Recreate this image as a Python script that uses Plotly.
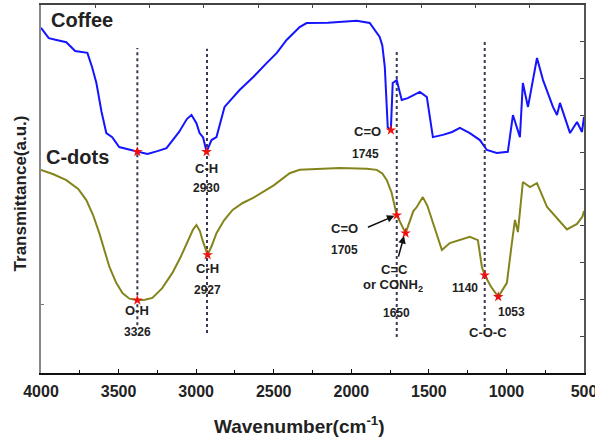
import plotly.graph_objects as go

# Coffee spectrum (wavenumber cm^-1, transmittance a.u.)
coffee_wn = [4000, 3950, 3900, 3837, 3780, 3733, 3701, 3670, 3643, 3610, 3579, 3541, 3496, 3440,
             3379, 3314, 3250, 3191, 3110, 3060, 3030, 2998, 2978, 2955,
             2933, 2901, 2869, 2817, 2720, 2630, 2546, 2480, 2417, 2333, 2288, 2150, 1965, 1881, 1817,
             1800, 1784, 1765, 1745, 1733, 1707, 1675, 1636, 1558, 1513, 1474, 1410, 1350, 1300,
             1236, 1171, 1126, 1062, 991, 958, 913, 894, 861, 803, 764, 700, 674, 655, 590, 545,
             513, 500]
coffee_t = [9.38, 9.10, 9.05, 8.99, 8.75, 8.72, 8.70, 8.30, 7.88, 7.10, 6.52, 6.41, 6.14, 6.08,
            6.01, 5.95, 6.03, 6.11, 6.55, 6.90, 7.01, 6.79, 6.52, 6.40,
            6.01, 6.33, 6.41, 7.23, 7.69, 8.05, 8.42, 8.70, 9.05, 9.40, 9.51, 9.52, 9.57, 9.51, 9.13,
            8.90, 8.32, 6.68, 6.60, 7.88, 7.96, 7.42, 7.47, 7.64, 7.50, 6.41, 6.47, 6.55, 6.66,
            6.52, 6.33, 6.06, 5.98, 6.01, 7.01, 6.41, 7.88, 7.23, 8.56, 7.96, 7.23, 7.01, 7.34, 6.52,
            6.82, 6.55, 6.96]

# C-dots spectrum
cdots_wn = [4000, 3920, 3837, 3760, 3708, 3665, 3624, 3590, 3559, 3515, 3475, 3430, 3379, 3330,
            3282, 3220, 3153, 3100, 3062, 3020, 2998, 2975, 2959, 2926, 2900, 2869, 2820,
            2765, 2700, 2636, 2500, 2397, 2333, 2200, 2075, 1900, 1836, 1800, 1771, 1740, 1707,
            1650, 1623, 1600, 1578, 1539, 1510, 1474, 1416, 1365, 1300, 1236, 1184, 1158, 1140,
            1100, 1053, 997, 965, 945, 926, 913, 894, 848, 803, 738, 674, 610, 545, 510, 500]
cdots_t = [5.52, 5.40, 5.24, 5.00, 4.70, 4.30, 3.80, 3.35, 2.88, 2.45, 2.17, 2.02, 1.98, 1.99,
           2.04, 2.30, 2.72, 3.15, 3.53, 3.90, 4.02, 3.85, 3.61, 3.21, 3.45, 3.80, 4.15,
           4.43, 4.62, 4.75, 5.10, 5.43, 5.52, 5.55, 5.57, 5.55, 5.52, 5.42, 5.24, 4.90, 4.29,
           3.80, 4.16, 4.40, 4.51, 4.78, 4.55, 4.08, 3.34, 3.53, 3.62, 3.70, 3.61, 2.88, 2.66,
           2.35, 2.07, 2.45, 3.53, 4.16, 3.83, 4.43, 5.19, 5.05, 5.16, 4.51, 4.20, 3.90, 4.05,
           4.25, 4.40]

# Marked peaks
coffee_peak_wn = [3379, 2933, 1745]
coffee_peak_t = [6.01, 6.01, 6.60]
cdots_peak_wn = [3379, 2926, 1707, 1650, 1140, 1053]
cdots_peak_t = [1.98, 3.21, 4.29, 3.80, 2.66, 2.07]

# Guide lines (wavenumber, top, bottom)
guide_wn = [3379, 2930, 1707, 1140]
guide_top = [8.83, 8.81, 8.72, 9.00]
guide_bot = [1.30, 1.09, 0.98, 1.25]

# Labels: (text, wavenumber, y, size)
labels = [
    ("C-H", 2933, 5.57, 13), ("2930", 2933, 5.03, 12),
    ("C=O", 1894, 6.55, 13), ("1745", 1907, 5.95, 12),
    ("O-H", 3379, 1.71, 13), ("3326", 3379, 1.11, 12),
    ("C-H", 2926, 2.85, 13), ("2927", 2926, 2.26, 12),
    ("C=O", 2043, 3.94, 13), ("1705", 2043, 3.34, 12),
    ("C=C", 1720, 2.80, 13), ("or CONH<sub>2</sub>", 1733, 2.37, 13), ("1650", 1707, 1.63, 12),
    ("1140", 1269, 2.31, 12), ("1053", 966, 1.66, 12),
    ("C-O-C", 1120, 1.09, 13),
]

BLUE = "#1414ff"
OLIVE = "#84841c"
TXT = "#222222"
FONT = "Liberation Sans"

fig = go.Figure()

for wn, top, bot in zip(guide_wn, guide_top, guide_bot):
    fig.add_trace(go.Scatter(x=[wn, wn], y=[bot, top], mode="lines",
                             line=dict(color="#3a3a55", width=2, dash="dot"),
                             hoverinfo="skip", showlegend=False))

fig.add_trace(go.Scatter(x=coffee_wn, y=coffee_t, mode="lines",
                         line=dict(color=BLUE, width=2), showlegend=False))
fig.add_trace(go.Scatter(x=cdots_wn, y=cdots_t, mode="lines",
                         line=dict(color=OLIVE, width=2), showlegend=False))
fig.add_trace(go.Scatter(x=coffee_peak_wn, y=coffee_peak_t, mode="markers",
                         marker=dict(symbol="star", size=8, color="#ee1111"), showlegend=False))
fig.add_trace(go.Scatter(x=cdots_peak_wn, y=cdots_peak_t, mode="markers",
                         marker=dict(symbol="star", size=8, color="#ee1111"), showlegend=False))
# dummy trace for top axis
fig.add_trace(go.Scatter(x=[0, 10], y=[0, 0], xaxis="x2", mode="lines",
                         line=dict(width=0), hoverinfo="skip", showlegend=False))
# dummy trace for right axis
fig.add_trace(go.Scatter(x=[4000, 500], y=[0, 0], yaxis="y2", mode="lines",
                         line=dict(width=0), hoverinfo="skip", showlegend=False))

for text, x, y, s in labels:
    fig.add_annotation(x=x, y=y, text="<b>%s</b>" % text, showarrow=False,
                       font=dict(family=FONT, size=s, color=TXT))

fig.add_annotation(x=3946, y=9.59, text="<b>Coffee</b>", showarrow=False, xanchor="left",
                   font=dict(family=FONT, size=20, color=TXT))
fig.add_annotation(x=3979, y=5.87, text="<b>C-dots</b>", showarrow=False, xanchor="left",
                   font=dict(family=FONT, size=20, color=TXT))

# arrows
fig.add_annotation(x=1722, y=4.27, ax=-28, ay=12, text="", showarrow=True,
                   arrowhead=2, arrowsize=1, arrowwidth=1.5, arrowcolor="#111111")
fig.add_annotation(x=1660, y=3.72, ax=-6, ay=22, text="", showarrow=True,
                   arrowhead=2, arrowsize=1, arrowwidth=1.5, arrowcolor="#111111")

# axis titles
fig.add_annotation(xref="paper", yref="paper", x=0.476, y=-0.141,
                   xanchor="center", yanchor="middle",
                   text="<b>Wavenumber(cm<sup>-1</sup>)</b>", showarrow=False,
                   font=dict(family=FONT, size=19, color=TXT))
fig.add_annotation(xref="paper", yref="paper", x=-0.038, y=0.489, textangle=-90,
                   xanchor="center", yanchor="middle",
                   text="<b>Transmittance(a.u.)</b>", showarrow=False,
                   font=dict(family=FONT, size=17, color=TXT))

fig.update_layout(
    width=595, height=441,
    margin=dict(l=41, r=11, t=5, b=68, autoexpand=False),
    paper_bgcolor="white", plot_bgcolor="white",
    xaxis=dict(range=[4000, 500], dtick=500, tick0=500, ticks="inside", ticklen=4,
               tickcolor="#111", showline=True, linecolor="#111", linewidth=2,
               showgrid=False, zeroline=False, ticklabelstandoff=3,
               ticklabeloverflow="allow", automargin=False,
               minor=dict(dtick=250, ticks="inside", ticklen=3, tickcolor="#111"),
               tickfont=dict(family=FONT, size=16, color=TXT, weight="bold")),
    xaxis2=dict(range=[0, 10], overlaying="x", side="top", dtick=1, ticks="inside",
                ticklen=3, tickcolor="#444", showticklabels=False, showline=True,
                linecolor="#444", linewidth=2, showgrid=False, zeroline=False,
                automargin=False),
    yaxis=dict(range=[0, 10], showticklabels=False, tickvals=[1.85], ticks="inside",
               ticklen=3, tickcolor="#777", showline=True, linecolor="#888", linewidth=1.5,
               showgrid=False, zeroline=False, automargin=False),
    yaxis2=dict(range=[0, 10], overlaying="y", side="right", dtick=1, ticks="inside",
                ticklen=4, tickcolor="#444", showticklabels=False, showline=True,
                linecolor="#555", linewidth=2, showgrid=False, zeroline=False,
                automargin=False),
)

fig.write_html("out.html")
